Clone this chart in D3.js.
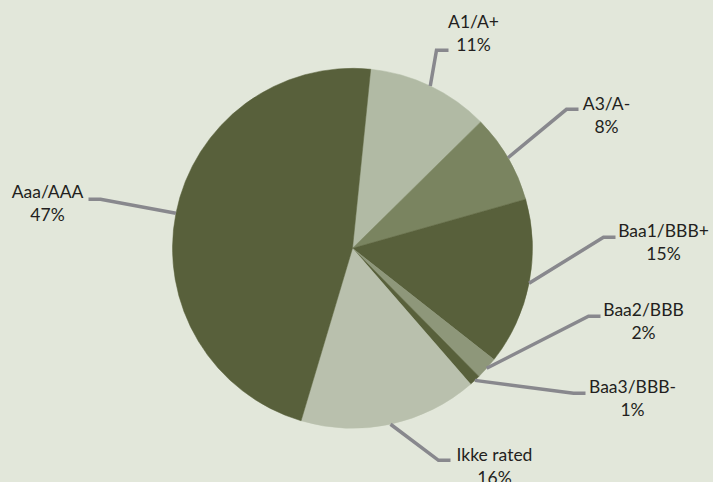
<!DOCTYPE html>
<html>
<head>
<meta charset="utf-8">
<script src="https://cdn.jsdelivr.net/npm/d3@7"></script>
<style>
  body { margin: 0; background: #e2e7da; }
  svg { display: block; }
</style>
</head>
<body>
<script>
// data, clockwise from the top
const categories = ["A1/A+", "A3/A-", "Baa1/BBB+", "Baa2/BBB", "Baa3/BBB-", "Ikke rated", "Aaa/AAA"]
const shares = [11, 8, 15, 2, 1, 16, 47]
const colors = ["#b1baa4", "#7a8460", "#58603b", "#8e977a", "#58603b", "#b9c0ad", "#58603b"]

// hand placed label spots (elbow of leader, relative to pie centre), like the excel original
const labelSpots = [
    { ex: 84, ey: -198, side: 1, tx: 121, ty: -220 },
    { ex: 214, ey: -139, side: 1, tx: 254, ty: -138 },
    { ex: 251, ey: -11, side: 1, tx: 311, ty: -11 },
    { ex: 236, ey: 68, side: 1, tx: 291, ty: 68 },
    { ex: 221, ey: 145, side: 1, tx: 280, ty: 145 },
    { ex: 86, ey: 212, side: 1, tx: 142, ty: 213 },
    { ex: -252, ey: -49, side: -1, tx: -305, ty: -50 }
]

const width = 713, height = 482
const cx = 352.5, cy = 248.3, radius = 180
const startDeg = 5.8

let svg = d3.select("body")
    .append("svg")
    .attr("width", width)
    .attr("height", height)
    .style("background", "#e2e7da")

let g = svg.append("g")
    .attr("transform", `translate(${cx},${cy})`)

let pie = d3.pie()
    .sort(null)
    .value(d => d)
    .startAngle(startDeg * Math.PI / 180)
    .endAngle(startDeg * Math.PI / 180 + 2 * Math.PI)

let arcs = pie(shares)

let arc = d3.arc()
    .innerRadius(0)
    .outerRadius(radius)

g.selectAll("path.slice")
    .data(arcs)
    .enter()
    .append("path")
    .attr("class", "slice")
    .attr("d", arc)
    .attr("fill", (d, i) => colors[i])
    .attr("stroke", (d, i) => colors[i])
    .attr("stroke-width", 0.5)

// leader lines
g.selectAll("polyline.leader")
    .data(arcs)
    .enter()
    .append("polyline")
    .attr("class", "leader")
    .attr("points", (d, i) => {
        let a = (d.startAngle + d.endAngle) / 2
        let sx = Math.sin(a) * radius
        let sy = -Math.cos(a) * radius
        let s = labelSpots[i]
        return [[sx, sy], [s.ex, s.ey], [s.ex + s.side * 12, s.ey]].map(p => p.join(",")).join(" ")
    })
    .attr("fill", "none")
    .attr("stroke", "#88888d")
    .attr("stroke-width", 3.5)

// labels
let labels = g.selectAll("text.lbl")
    .data(arcs)
    .enter()
    .append("text")
    .attr("class", "lbl")
    .attr("text-anchor", "middle")
    .style("font-family", "Lato, 'Open Sans', sans-serif")
    .style("font-size", "17.5px")
    .attr("fill", "#231f20")

labels.append("tspan")
    .attr("x", (d, i) => labelSpots[i].tx)
    .attr("y", (d, i) => labelSpots[i].ty)
    .text((d, i) => categories[i])

labels.append("tspan")
    .attr("x", (d, i) => labelSpots[i].tx)
    .attr("y", (d, i) => labelSpots[i].ty + 22.5)
    .text((d, i) => shares[i] + "%")
</script>
</body>
</html>
